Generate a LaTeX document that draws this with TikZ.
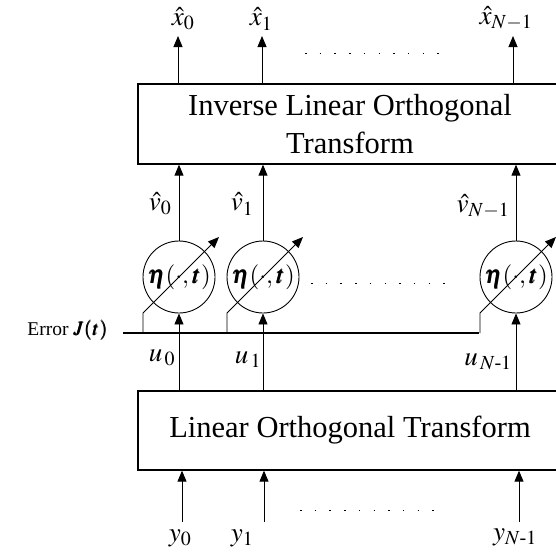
\documentclass[tikz,border=0pt]{standalone}
\usepackage{amsmath}
\usepackage{mathptmx}
\usepackage{bm}
\usepackage{fontspec}
\setmainfont{Liberation Serif}
\usetikzlibrary{arrows.meta,calc}
\begin{document}
\begin{tikzpicture}[x=1pt,y=-1pt,
  bigbox/.style={draw,line width=1.3pt,minimum width=424pt,inner sep=0pt,align=center,
    font=\fontsize{30.5}{38}\selectfont},
  sig/.style={line width=0.9pt,-{Triangle[length=11pt,width=9pt]}},
  bus/.style={line width=1.3pt},
  etabox/.style={circle,draw,line width=0.9pt,minimum size=72pt,inner sep=0pt,
    font=\fontsize{25}{25}\selectfont},
  lbl/.style={inner sep=0pt,font=\fontsize{27}{27}\selectfont},
  dots/.style={line width=1pt,dash pattern=on 1.5pt off 13.2pt}]
\useasboundingbox (0,0) rectangle (556,555);
% boxes
\node[bigbox,minimum height=80pt] (inv) at (350,124) {Inverse Linear Orthogonal\\Transform};
\node[bigbox,minimum height=79pt] (lot) at (350,430.5) {Linear Orthogonal Transform};
% threshold circles
\node[etabox] (e0) at (179,277) {$\bm{\eta}(\cdot,\bm{t})$};
\node[etabox] (e1) at (263,277) {$\bm{\eta}(\cdot,\bm{t})$};
\node[etabox] (eN) at (516,277) {$\bm{\eta}(\cdot,\bm{t})$};
% outputs
\coordinate (xo0) at (178,36);
\coordinate (xo1) at (262,36);
\coordinate (xoN) at (513,36);
\draw[sig] (inv.north -| xo0) -- (xo0);
\draw[sig] (inv.north -| xo1) -- (xo1);
\draw[sig] (inv.north -| xoN) -- (xoN);
\node[lbl] (lx0) at (183,19) {$\hat{x}_0$};
\node[lbl] (lx1) at (261,19) {$\hat{x}_1$};
\node[lbl] (lxN) at (506,18) {$\hat{x}_{N-1}$};
% circles to inverse box
\draw[sig] (e0.north) -- (e0.north |- inv.south);
\draw[sig] (e1.north) -- (e1.north |- inv.south);
\draw[sig] (eN.north) -- (eN.north |- inv.south);
\node[lbl] (lv0) at (160,204) {$\hat{v}_0$};
\node[lbl] (lv1) at (242,204) {$\hat{v}_1$};
\node[lbl] (lvN) at (483,206) {$\hat{v}_{N-1}$};
% transform to circles
\draw[sig] (e0.south |- lot.north) -- (e0.south);
\draw[sig] (e1.south |- lot.north) -- (e1.south);
\draw[sig] (eN.south |- lot.north) -- (eN.south);
\node[lbl] (lu0) at (162,358) {$u_{\,0}$};
\node[lbl] (lu1) at (248,360) {$u_{\,1}$};
\node[lbl] (luN) at (488,362) {$u_{\,N\text{-}1}$};
% inputs
\coordinate (yi0) at (182,522);
\coordinate (yi1) at (264,522);
\coordinate (yiN) at (519,522);
\draw[sig] (yi0) -- (yi0 |- lot.south);
\draw[sig] (yi1) -- (yi1 |- lot.south);
\draw[sig] (yiN) -- (yiN |- lot.south);
\node[lbl] (ly0) at (180,538) {$y_0$};
\node[lbl] (ly1) at (242,538) {$y_1$};
\node[lbl] (lyN) at (515,537) {$y_{N\text{-}1}$};
% error bus
\coordinate (busL) at (123,333);
\coordinate (busR) at ($(eN.center)+(-37,56)$);
\draw[bus] (busL) -- (busR);
\node[inner sep=0pt,anchor=east,font=\fontsize{19.5}{20}\selectfont] (err) at (108,330) {Error $\bm{J(t)}$};
\foreach \c in {e0,e1,eN}{
  \draw[sig] ($(\c.center)+(-36,56)$) -- ($(\c.center)+(-36,36)$) -- ($(\c.center)+(40,-40)$);
}
% dots
\draw[dots] (305,53) -- (442,53);
\draw[dots] (311,283) -- (445,283);
\draw[dots] (300,510) -- (437,510);
\end{tikzpicture}
\end{document}
